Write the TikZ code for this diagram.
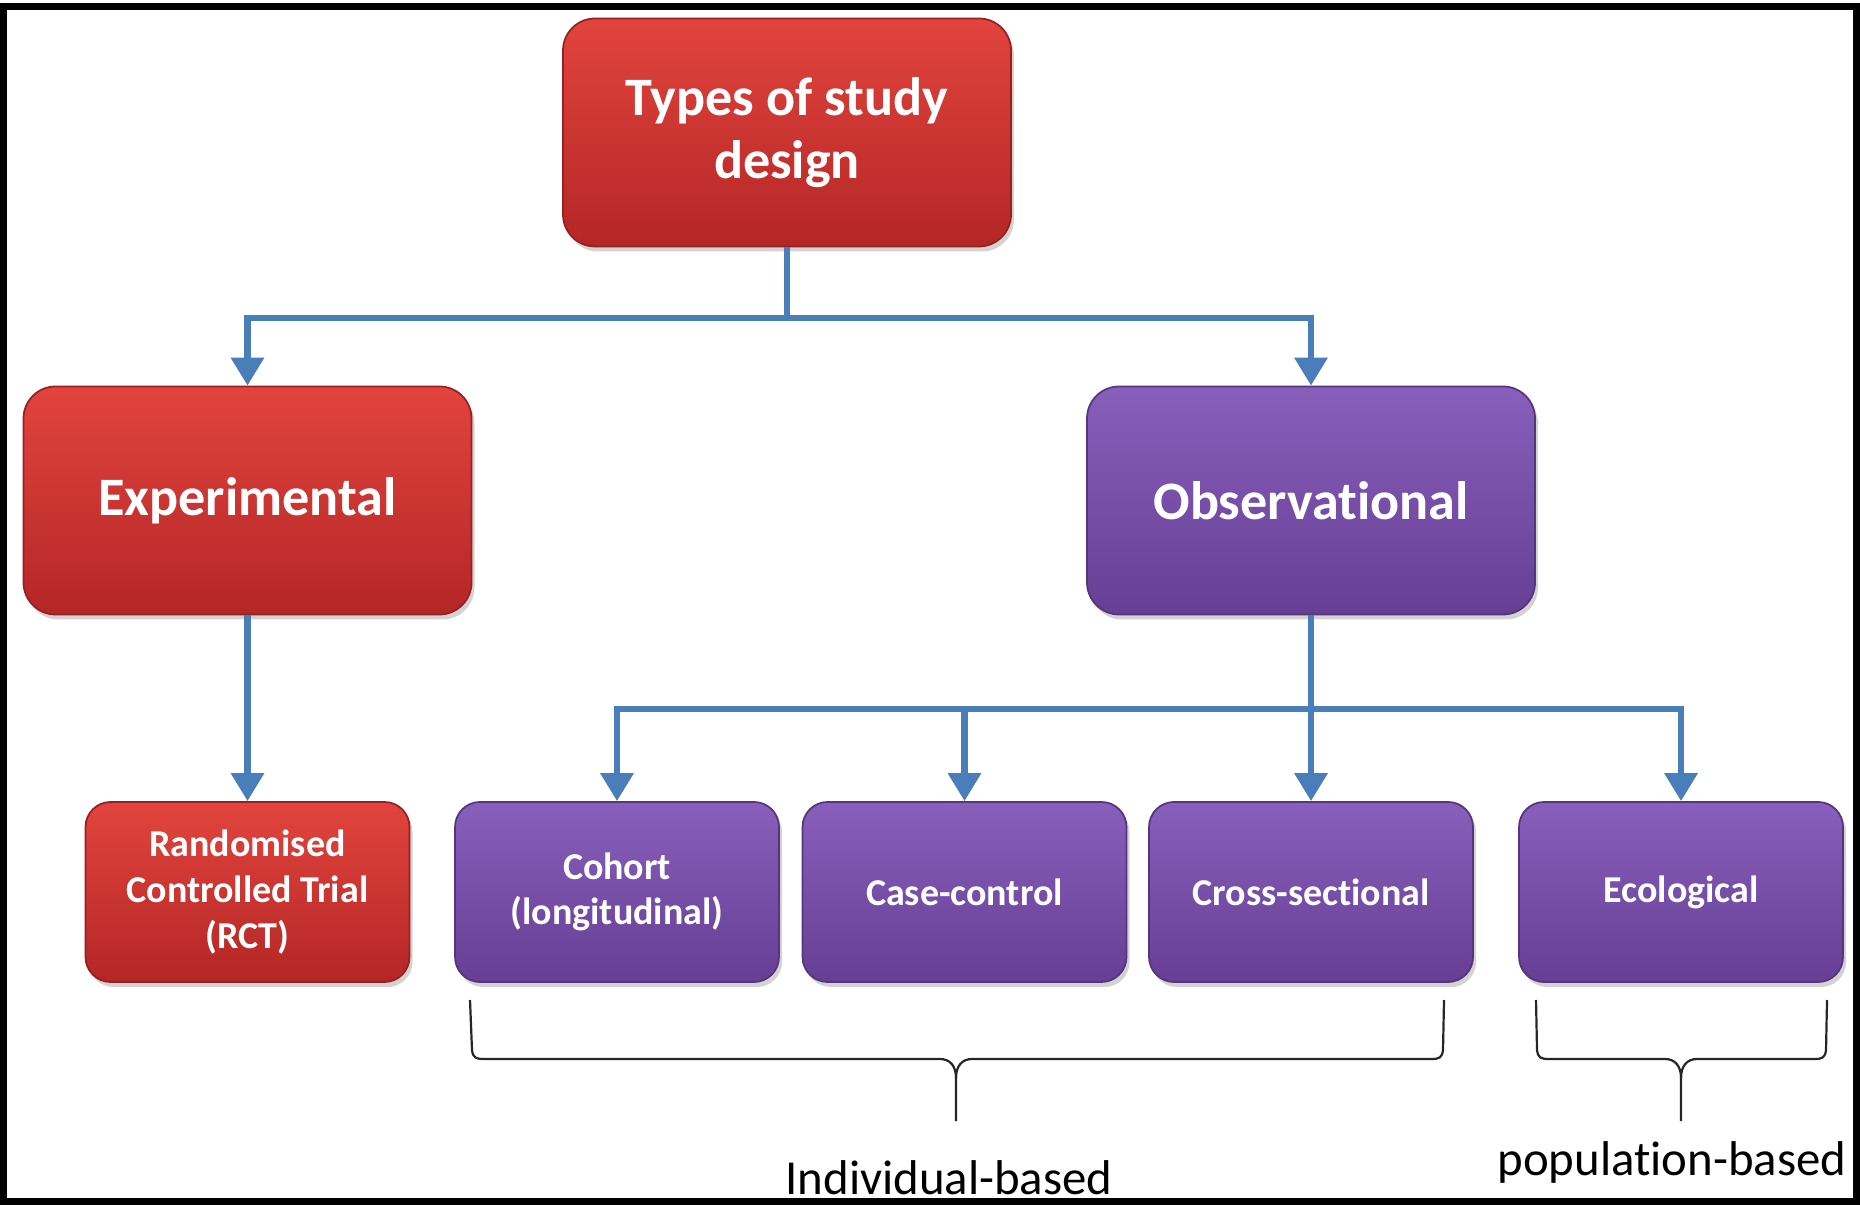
\documentclass[tikz,border=0pt]{standalone}
\usepackage{fontspec}
\setmainfont{Carlito}[Ligatures=NoCommon]
\usetikzlibrary{arrows.meta,shadows}

\definecolor{redtop}{RGB}{226,68,62}
\definecolor{redbot}{RGB}{180,38,38}
\definecolor{purtop}{RGB}{136,96,188}
\definecolor{purbot}{RGB}{102,62,148}
\definecolor{linkblue}{RGB}{74,126,187}

\tikzset{
  box/.style={align=center, text=white, inner sep=0pt,
    drop shadow={opacity=0.35, shadow xshift=0.03cm, shadow yshift=-0.05cm}},
  bigbox/.style={box, rounded corners=0.32cm, minimum width=4.48cm, minimum height=2.28cm,
    font=\fontsize{15.4}{17.9}\selectfont\bfseries},
  smallbox/.style={box, rounded corners=0.25cm, minimum width=3.24cm, minimum height=1.80cm,
    font=\fontsize{10.8}{13}\selectfont\bfseries},
  redbox/.style={top color=redtop, bottom color=redbot, draw=redbot!85!black, line width=0.5pt},
  purplebox/.style={top color=purtop, bottom color=purbot, draw=purbot!85!black, line width=0.5pt},
  link/.style={draw=linkblue, line width=0.065cm},
  bracket/.style={draw=black!85, line width=0.022cm},
  bracketlabel/.style={font=\fontsize{13.9}{16}\selectfont},
}

\begin{document}
\begin{tikzpicture}[>={Triangle[width=0.32cm,length=0.28cm]}]
        \useasboundingbox (0, 0) rectangle (18.6, -12.05);
        \draw[line width=0.07cm] (0.035, -0.07) rectangle (18.565, -12.015);

        % Top
        \node[bigbox, redbox] (top) at (7.87, -1.325) {Types of study\\design};

        % 1st level
        \node[bigbox, redbox] (exp) at (2.475, -5.005) {Experimental};
        \node[bigbox, purplebox] (obs) at (13.11, -5.005) {Observational};

        % 2nd level
        \node[smallbox, redbox] (rct) at (2.475, -8.92) {Randomised\\Controlled Trial\\(RCT)};
        \node[smallbox, purplebox] (cohort) at (6.17, -8.92) {Cohort\\(longitudinal)};
        \node[smallbox, purplebox] (casectl) at (9.645, -8.92) {Case-control};
        \node[smallbox, purplebox] (cross) at (13.11, -8.92) {Cross-sectional};
        \node[smallbox, purplebox] (eco) at (16.81, -8.92) {Ecological};

        % Connections
        \coordinate (split1) at (7.87, -3.18);
        \draw[link] (top.south) -- (split1);
        \draw[link, ->] (split1) -| (exp.north);
        \draw[link, ->] (split1) -| (obs.north);

        \draw[link, ->] (exp.south) -- (rct.north);

        \coordinate (split2) at (13.11, -7.09);
        \draw[link, ->] (obs.south) -- (cross.north);
        \draw[link, ->] (split2) -| (cohort.north);
        \draw[link, ->] (split2) -| (casectl.north);
        \draw[link, ->] (split2) -| (eco.north);

        % Brackets
        \draw[bracket] (4.70, -10.00) -- (4.72, -10.50)
            .. controls (4.73, -10.58) and (4.76, -10.59) .. (4.84, -10.59)
            -- (9.40, -10.59)
            .. controls (9.50, -10.59) and (9.56, -10.66) .. (9.56, -10.78)
            -- (9.56, -11.21);
        \draw[bracket] (14.44, -10.00) -- (14.43, -10.50)
            .. controls (14.42, -10.58) and (14.39, -10.59) .. (14.31, -10.59)
            -- (9.72, -10.59)
            .. controls (9.62, -10.59) and (9.56, -10.66) .. (9.56, -10.78);
        \node[bracketlabel] (indiv) at (9.49, -11.78) {Individual-based};

        \draw[bracket] (15.36, -10.00) -- (15.37, -10.50)
            .. controls (15.38, -10.58) and (15.41, -10.59) .. (15.49, -10.59)
            -- (16.65, -10.59)
            .. controls (16.75, -10.59) and (16.81, -10.66) .. (16.81, -10.78)
            -- (16.81, -11.21);
        \draw[bracket] (18.27, -10.00) -- (18.26, -10.50)
            .. controls (18.25, -10.58) and (18.22, -10.59) .. (18.14, -10.59)
            -- (16.97, -10.59)
            .. controls (16.87, -10.59) and (16.81, -10.66) .. (16.81, -10.78);
        \node[bracketlabel] (popul) at (16.72, -11.62) {population-based};
\end{tikzpicture}
\end{document}
